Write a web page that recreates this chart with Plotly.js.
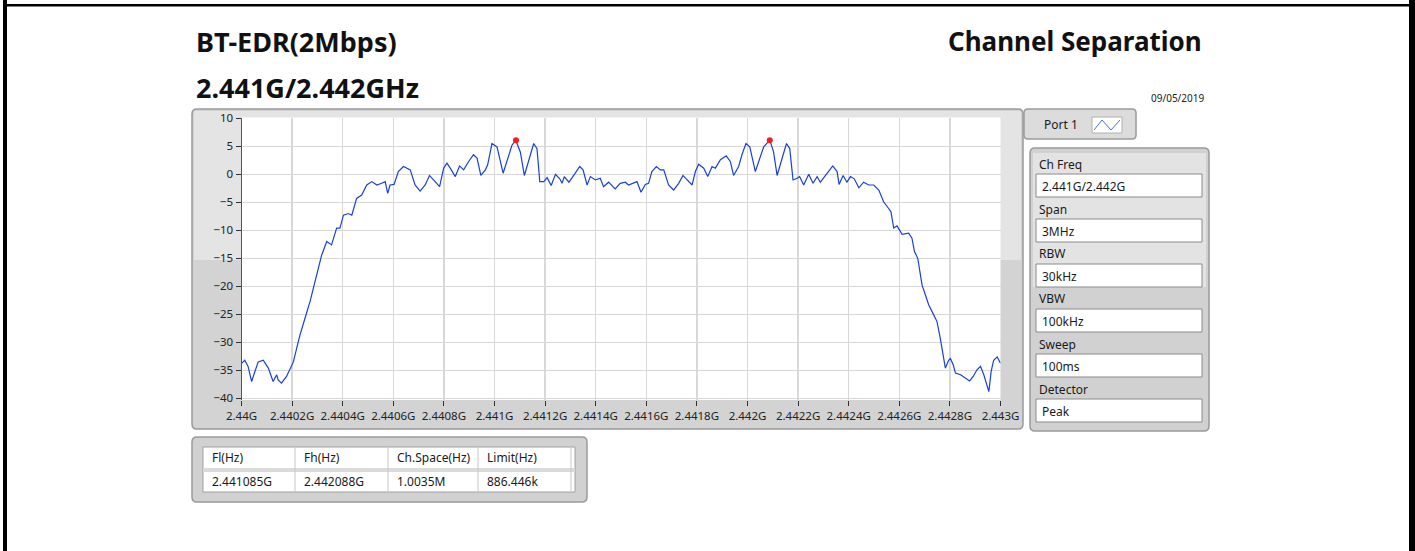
<!DOCTYPE html>
<html><head><meta charset="utf-8">
<script src="https://cdn.plot.ly/plotly-3.0.1.min.js"></script>
<style>html,body{margin:0;padding:0;background:#fff;}#chart{width:1415px;height:551px;}</style>
</head><body><div id="chart"></div>
<script>
// ---- data ----
const freqMHz = [2440.000,2440.013,2440.026,2440.040,2440.053,2440.066,2440.086,2440.106,2440.125,2440.139,2440.145,2440.158,2440.178,2440.191,2440.205,2440.218,2440.231,2440.251,2440.271,2440.297,2440.317,2440.337,2440.356,2440.376,2440.389,2440.403,2440.422,2440.436,2440.455,2440.475,2440.495,2440.515,2440.535,2440.554,2440.568,2440.578,2440.587,2440.603,2440.620,2440.640,2440.667,2440.686,2440.706,2440.726,2440.743,2440.759,2440.783,2440.799,2440.812,2440.825,2440.845,2440.862,2440.878,2440.898,2440.917,2440.931,2440.946,2440.964,2440.973,2440.990,2441.010,2441.034,2441.049,2441.069,2441.084,2441.102,2441.118,2441.135,2441.155,2441.168,2441.179,2441.195,2441.208,2441.224,2441.241,2441.258,2441.267,2441.276,2441.294,2441.307,2441.337,2441.350,2441.366,2441.379,2441.399,2441.418,2441.431,2441.451,2441.477,2441.497,2441.517,2441.530,2441.550,2441.563,2441.579,2441.596,2441.609,2441.622,2441.640,2441.655,2441.669,2441.688,2441.708,2441.728,2441.745,2441.761,2441.781,2441.794,2441.807,2441.827,2441.843,2441.860,2441.873,2441.893,2441.916,2441.932,2441.945,2441.965,2441.978,2441.994,2442.009,2442.031,2442.048,2442.064,2442.088,2442.103,2442.117,2442.136,2442.154,2442.167,2442.180,2442.196,2442.206,2442.222,2442.242,2442.259,2442.275,2442.288,2442.304,2442.321,2442.337,2442.354,2442.362,2442.378,2442.393,2442.407,2442.422,2442.440,2442.459,2442.479,2442.499,2442.519,2442.538,2442.558,2442.567,2442.578,2442.591,2442.611,2442.637,2442.650,2442.660,2442.673,2442.690,2442.703,2442.716,2442.736,2442.749,2442.762,2442.782,2442.795,2442.802,2442.813,2442.822,2442.842,2442.861,2442.878,2442.892,2442.907,2442.921,2442.934,2442.954,2442.963,2442.973,2442.987,2443.000];
const levelDb = [-33.75,-33.2,-34.3,-37.0,-35.2,-33.5,-33.2,-34.6,-37.0,-35.8,-36.7,-37.3,-36.1,-34.9,-33.5,-31.1,-28.7,-25.7,-22.7,-18.0,-14.4,-12.0,-12.6,-9.6,-9.6,-7.3,-7.0,-7.3,-4.3,-3.7,-1.9,-1.3,-1.9,-1.6,-1.3,-3.4,-1.9,-1.8,0.5,1.4,0.8,-1.9,-3.0,-1.9,-0.2,-1.0,-2.2,1.1,2.0,1.1,-0.4,1.5,0.8,2.3,3.5,2.9,-0.2,0.8,1.7,5.5,4.9,0.2,2.3,5.2,6.1,4.0,-0.2,2.3,5.5,4.6,-1.3,-1.3,-0.6,-2.0,0.0,-0.8,-1.6,-0.4,-1.4,-0.6,1.4,0.8,-1.9,-0.4,-1.0,-0.7,-2.2,-1.4,-2.6,-1.6,-1.4,-1.9,-1.6,-1.3,-3.2,-1.8,-1.6,0.5,1.4,0.8,0.8,-1.9,-2.8,-1.6,-0.2,-1.0,-1.9,0.5,1.8,1.1,-0.4,1.4,1.1,2.6,3.3,2.3,-0.2,1.4,3.5,5.5,4.9,0.5,2.9,4.9,6.1,4.0,-0.2,2.9,5.5,4.6,-1.0,-0.7,-0.4,-1.9,0.0,-1.6,-0.4,-1.4,-0.4,0.5,1.5,0.5,-1.8,-0.2,-1.4,-0.4,-0.8,-2.4,-1.4,-1.9,-1.9,-2.8,-4.9,-6.1,-6.7,-9.6,-9.2,-10.7,-10.5,-11.4,-13.8,-15.0,-19.8,-21.5,-23.3,-25.1,-26.3,-29.3,-34.6,-33.2,-32.9,-34.0,-35.5,-35.8,-36.4,-36.9,-36.1,-34.9,-34.3,-35.8,-38.8,-35.2,-33.2,-32.6,-33.75];
const markerFreqMHz = [2441.085, 2442.088];
const markerDb = [6.1, 6.1];
const xTickVals = [2440.0,2440.2,2440.4,2440.6,2440.8,2441.0,2441.2,2441.4,2441.6,2441.8,2442.0,2442.2,2442.4,2442.6,2442.8,2443.0];
const xTickText = ['2.44G','2.4402G','2.4404G','2.4406G','2.4408G','2.441G','2.4412G','2.4414G','2.4416G','2.4418G','2.442G','2.4422G','2.4424G','2.4426G','2.4428G','2.443G'];
const yTickVals = [10,5,0,-5,-10,-15,-20,-25,-30,-35,-40];
const titleLeft1 = 'BT-EDR(2Mbps)';
const titleLeft2 = '2.441G/2.442GHz';
const titleRight = 'Channel Separation';
const dateText = '09/05/2019';
const portLabel = 'Port 1';
const paramNames = ['Ch Freq','Span','RBW','VBW','Sweep','Detector'];
const paramValues = ['2.441G/2.442G','3MHz','30kHz','100kHz','100ms','Peak'];
const tableHeaders = ['Fl(Hz)','Fh(Hz)','Ch.Space(Hz)','Limit(Hz)'];
const tableValues = ['2.441085G','2.442088G','1.0035M','886.446k'];

// ---- layout helpers (pixel -> paper) ----
const W = 1415, H = 551;
const px = x => x / W;
const py = y => 1 - y / H;
const shapes = [];
const annotations = [];
function rect(x0, y0, x1, y1, fill, line, lw) {
  shapes.push({type:'rect', xref:'paper', yref:'paper', layer:'below',
    x0:px(x0), x1:px(x1), y0:py(y1), y1:py(y0),
    fillcolor:fill, line:{color:line || 'rgba(0,0,0,0)', width: lw || 0}});
}
function rrect(x0, y0, x1, y1, r, fill, line, lw) {
  const P = (x, y) => px(x).toFixed(5) + ',' + py(y).toFixed(5);
  const d = 'M' + P(x0 + r, y0) + ' L' + P(x1 - r, y0) + ' Q' + P(x1, y0) + ' ' + P(x1, y0 + r) +
    ' L' + P(x1, y1 - r) + ' Q' + P(x1, y1) + ' ' + P(x1 - r, y1) +
    ' L' + P(x0 + r, y1) + ' Q' + P(x0, y1) + ' ' + P(x0, y1 - r) +
    ' L' + P(x0, y0 + r) + ' Q' + P(x0, y0) + ' ' + P(x0 + r, y0) + ' Z';
  shapes.push({type:'path', xref:'paper', yref:'paper', layer:'below', path:d,
    fillcolor:fill, line:{color:line || 'rgba(0,0,0,0)', width: lw || 0}});
}
function text(x, y, s, size, opts) {
  opts = opts || {};
  annotations.push({xref:'paper', yref:'paper', x:px(x), y:py(y), text:s, showarrow:false,
    xanchor:opts.xanchor || 'left', yanchor:'middle',
    font:{family:opts.family || 'Noto Sans, sans-serif', size:size, color:opts.color || '#1a1a1a', weight:opts.weight || 'normal'}});
}

// outer black border
rect(3, 0, 7, 551, '#000');
rect(3, 4, 1415, 6.5, '#000');
rect(1409, 0, 1415, 551, '#000');

// titles
text(194, 41, titleLeft1, 27, {weight:'bold', color:'#111'});
text(194, 88, titleLeft2, 27, {weight:'bold', color:'#111'});
text(1204, 41, titleRight, 26, {weight:'bold', color:'#111', xanchor:'right'});
text(1206, 98, dateText, 10, {xanchor:'right', color:'#222'});

// graph frame
rrect(192, 109, 1023, 429, 5, '#d3d3d3', '#9a9a9a', 1.5);
rect(194, 111, 1021, 260, '#e4e4e4');
rect(241.5, 117.5, 1000.5, 400, '#ffffff');

// Port 1 box
rrect(1024, 109, 1136, 139, 4, '#dcdcdc', '#9a9a9a', 1.5);
text(1042, 124, portLabel, 12);
rect(1092, 117, 1122, 133, '#ffffff', '#b0b0b0', 1);
shapes.push({type:'path', xref:'paper', yref:'paper', layer:'above',
  path:'M' + px(1094) + ',' + py(130) + ' L' + px(1102) + ',' + py(120) + ' L' + px(1111) + ',' + py(130) + ' L' + px(1120) + ',' + py(120),
  line:{color:'#4a6fe0', width:1}});

// parameter panel
rrect(1030, 148, 1209, 431, 5, '#d1d1d1', '#9a9a9a', 1.5);
rect(1033, 153, 1206, 287, '#e3e3e3');
const rowTop = 155, rowStep = 45;
paramNames.forEach((n, i) => {
  const top = rowTop + i * rowStep;
  text(1037, top + 9, n, 12);
  rect(1036, top + 19, 1202, top + 42, '#ffffff', '#8a8a8a', 1);
  text(1040, top + 31, paramValues[i], 12);
});

// bottom table
rrect(192, 437, 587, 502, 5, '#d1d1d1', '#9a9a9a', 1.5);
rect(203, 447, 575, 492, '#ffffff', '#a0a0a0', 1);
rect(203, 468, 575, 472, '#dadada');
const colX = [203, 295, 388, 478, 571];
for (let i = 1; i < colX.length; i++) {
  rect(colX[i] - 0.5, 447, colX[i] + 0.5, 492, '#c8c8c8');
}
tableHeaders.forEach((h, i) => text(colX[i] + 7, 457, h, 12));
tableValues.forEach((v, i) => text(colX[i] + 7, 481, v, 12));

const traces = [
  {x:freqMHz, y:levelDb, type:'scatter', mode:'lines', line:{color:'#1a3fdc', width:1.2}, hoverinfo:'x+y'},
  {x:markerFreqMHz, y:markerDb, type:'scatter', mode:'markers', marker:{color:'#ff1a1a', size:6}, hoverinfo:'x+y'}
];

const layout = {
  width:W, height:H, margin:{l:0, r:0, t:0, b:0},
  paper_bgcolor:'#ffffff', plot_bgcolor:'rgba(0,0,0,0)', showlegend:false,
  font:{family:'Noto Sans, sans-serif', size:11.5, color:'#222'},
  xaxis:{domain:[px(241.5), px(1000.5)], range:[2440, 2443], tickvals:xTickVals, ticktext:xTickText,
    showgrid:true, gridcolor:'#d8d8d8', gridwidth:1.5, zeroline:false, showline:false,
    ticks:'outside', ticklen:5, tickcolor:'#333', tickfont:{size:11.5, color:'#222'}},
  yaxis:{domain:[py(400), py(117.5)], range:[-40.3, 10.15], tickvals:yTickVals,
    showgrid:true, gridcolor:'#d8d8d8', gridwidth:1.5, zeroline:false, showline:true, linecolor:'#555', linewidth:1,
    ticks:'outside', ticklen:5, tickcolor:'#333', tickfont:{size:11.5, color:'#222'}},
  shapes:shapes, annotations:annotations
};
Plotly.newPlot('chart', traces, layout, {displayModeBar:false, staticPlot:true});
</script></body></html>
